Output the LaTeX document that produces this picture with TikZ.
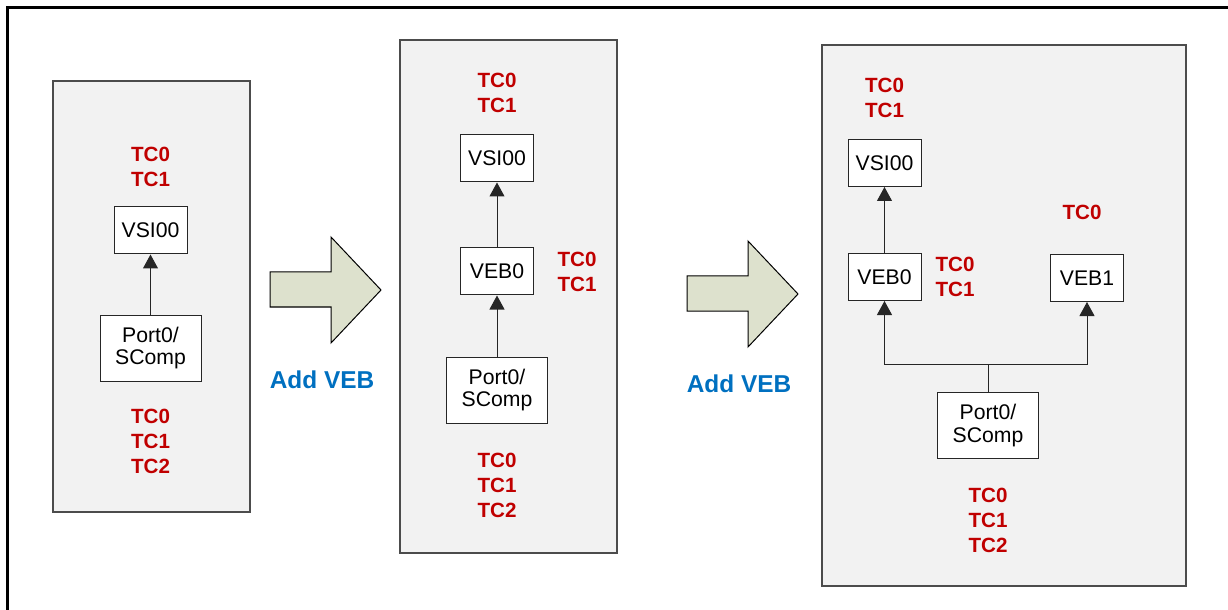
\documentclass[tikz,border=0pt]{standalone}
\usepackage{fontspec}
\setmainfont{Liberation Sans}
\usetikzlibrary{arrows.meta}
\definecolor{panelgray}{HTML}{F2F2F2}
\definecolor{tcred}{HTML}{C00000}
\definecolor{vebblue}{HTML}{0070C0}
\definecolor{arrowfill}{HTML}{DDE1CD}

\begin{document}
\begin{tikzpicture}[
  x=0.5pt, y=-0.5pt,
  panel/.style={draw=black!70, line width=0.8pt, fill=panelgray},
  unit/.style={draw=black!85, line width=0.5pt, fill=white, align=center,
    inner sep=1pt, font=\fontsize{10.6}{11.3}\selectfont},
  small/.style={unit, minimum width=36.5pt, minimum height=23.5pt},
  port/.style={unit, minimum width=50.5pt, minimum height=33pt},
  tcs/.style={text=tcred, align=center, inner sep=0pt,
    font=\fontsize{10.3}{12.5}\selectfont\bfseries},
  addveb/.style={text=vebblue, inner sep=0pt,
    font=\fontsize{12.2}{14}\selectfont\bfseries},
  bigarrow/.style={draw=black, line width=0.5pt, fill=arrowfill},
  link/.style={-{Triangle[length=7pt,width=7.5pt]}, line width=0.5pt,
    draw=black!85},
]
\useasboundingbox (0,0) rectangle (1228,610);

% ---- outer frame ----------------------------------------------------------
\draw[line width=1.5pt] (1240,8) -- (7,8) -- (7,620);

% ---- the three panels -----------------------------------------------------
\draw[panel] (53,81) rectangle (250,512);
\draw[panel] (400,40) rectangle (617,553);
\draw[panel] (822,45) rectangle (1186,586);

% ---- "Add VEB" arrows between the panels ---------------------------------
\foreach \i/\px/\py in {1/270/272, 2/687/276} {
  \draw[bigarrow, shift={(\px,\py)}] (0,0) -- (61,0) -- (61,-35)
    -- (111,18) -- (61,71) -- (61,35) -- (0,35) -- cycle;
  \node[addveb] (add\i) at (\px+52,\py+108) {Add VEB};
}

% ---- panel 1: port straight to the VSI ------------------------------------
\node[small] (vsia) at (150.5,230.5) {VSI00};
\node[port] (porta) at (150.5,348) {Port0/\\SComp};
\node[tcs] (topa) at (150.5,166.5) {TC0\\TC1};
\node[tcs] (bota) at (150.5,441) {TC0\\TC1\\TC2};
\draw[link] (porta) -- (vsia);

% ---- panel 2: one VEB between port and VSI --------------------------------
\node[small] (vsib) at (497,158.5) {VSI00};
\node[small] (vebb) at (497,271.5) {VEB0};
\node[port] (portb) at (497,390) {Port0/\\SComp};
\node[tcs] (topb) at (497,92.5) {TC0\\TC1};
\node[tcs] (sideb) at (577,271.5) {TC0\\TC1};
\node[tcs] (botb) at (497,485) {TC0\\TC1\\TC2};
\draw[link] (portb) -- (vebb);
\draw[link] (vebb) -- (vsib);

% ---- panel 3: the port feeds two VEBs -------------------------------------
\node[small] (vsic) at (884.5,163) {VSI00};
\node[small] (vebc) at (884.5,277) {VEB0};
\node[small] (vebd) at (1087,278) {VEB1};
\node[port] (portc) at (988,425.5) {Port0/\\SComp};
\node[tcs] (topc) at (884.5,97.5) {TC0\\TC1};
\node[tcs] (sidec) at (955,276.5) {TC0\\TC1};
\node[tcs] (sided) at (1082,212) {TC0};
\node[tcs] (botc) at (988,520) {TC0\\TC1\\TC2};
\coordinate (split) at (988,364);
\draw[line width=0.5pt, draw=black!85] (portc) -- (split);
\draw[link] (split) -| (vebc);
\draw[link] (split) -| (vebd);
\draw[link] (vebc) -- (vsic);

\end{tikzpicture}
\end{document}
